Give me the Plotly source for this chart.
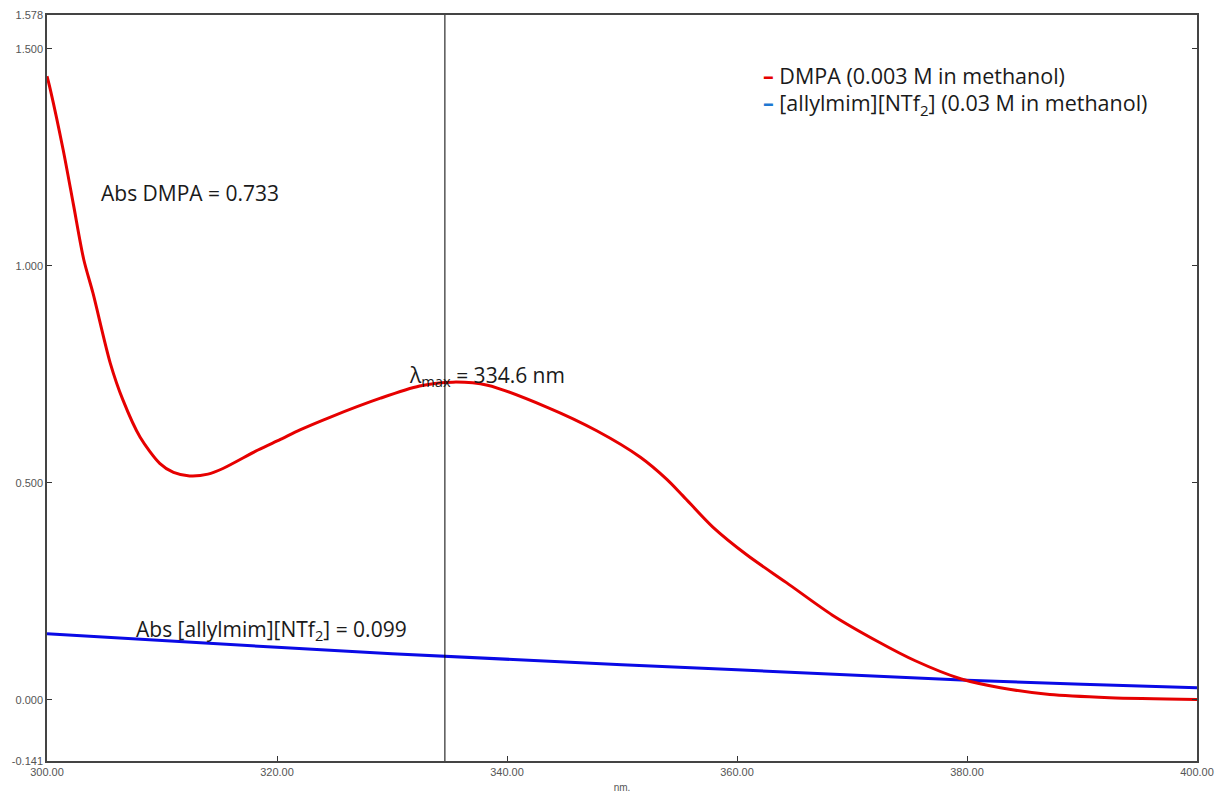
import plotly.graph_objects as go

# DMPA absorbance (red)
dmpa_nm = [300.0, 300.3, 301.4, 302.3, 303.2, 304.0, 305.5, 306.6, 308.1, 309.8, 311.0, 312.4,
           314.0, 315.3, 318.3, 320.3, 322.0, 324.6, 329.0, 332.4, 335.3, 338.3, 343.5, 347.8,
           351.6, 353.9, 355.3, 357.9, 360.9, 364.3, 368.3, 372.2, 375.5, 379.5, 382.9, 387.2,
           392.4, 400.0]
dmpa_abs = [1.437, 1.405, 1.268, 1.141, 1.014, 0.937, 0.776, 0.691, 0.605, 0.545, 0.524, 0.516,
            0.520, 0.533, 0.575, 0.600, 0.622, 0.651, 0.695, 0.723, 0.732, 0.725, 0.674, 0.620,
            0.559, 0.508, 0.470, 0.398, 0.333, 0.270, 0.195, 0.135, 0.090, 0.048, 0.028, 0.012,
            0.005, 0.001]

# [allylmim][NTf2] absorbance (blue)
il_nm = [300, 310, 320, 330, 340, 350, 360, 370, 380, 390, 400]
il_abs = [0.152, 0.136, 0.121, 0.106, 0.093, 0.081, 0.069, 0.057, 0.045, 0.036, 0.028]

y_tickvals = [-0.141, 0.0, 0.5, 1.0, 1.5, 1.578]
y_ticktext = ["-0.141", "0.000", "0.500", "1.000", "1.500", "1.578"]
x_tickvals = [300, 320, 340, 360, 380, 400]
x_ticktext = ["300.00", "320.00", "340.00", "360.00", "380.00", "400.00"]

lambda_max = 334.6

fig = go.Figure()
fig.add_trace(go.Scatter(x=il_nm, y=il_abs, mode="lines", line=dict(color="#0a0ae6", width=3),
                         showlegend=False))
fig.add_trace(go.Scatter(x=dmpa_nm, y=dmpa_abs, mode="lines",
                         line=dict(color="#e60000", width=3, shape="spline", smoothing=0.8),
                         showlegend=False))

fig.add_shape(type="line", x0=lambda_max, x1=lambda_max, y0=0, y1=1, xref="x", yref="paper",
              line=dict(color="black", width=1))

tfont = dict(family="Open Sans, sans-serif", size=21, color="#1a1a1a")
lfont = dict(family="Open Sans, sans-serif", size=21.5, color="#1a1a1a")
fig.add_annotation(x=312.4, y=1.169, text="Abs DMPA = 0.733", showarrow=False, font=tfont,
                   xanchor="center", yanchor="middle")
fig.add_annotation(x=331.3, y=0.746, text="λ<sub>max</sub> = 334.6 nm", showarrow=False, font=tfont,
                   xanchor="left", yanchor="middle")
fig.add_annotation(x=307.6, y=0.161, text="Abs [allylmim][NTf<sub>2</sub>] = 0.099", showarrow=False, font=tfont,
                   xanchor="left", yanchor="middle")

# legend as text
fig.add_annotation(x=0.621, y=1.439, xref="paper", yref="y",
                   text="<span style='color:#e60000'><b>–</b></span> DMPA (0.003 M in methanol)",
                   showarrow=False, font=lfont, xanchor="left", yanchor="middle")
fig.add_annotation(x=0.621, y=1.372, xref="paper", yref="y",
                   text="<span style='color:#1e78d2'><b>–</b></span> [allylmim][NTf<sub>2</sub>] (0.03 M in methanol)",
                   showarrow=False, font=lfont, xanchor="left", yanchor="middle")

axfont = dict(family="Liberation Sans, Arial, sans-serif", size=11, color="#555555")
fig.update_xaxes(range=[300, 400], tickvals=x_tickvals, ticktext=x_ticktext, ticks="inside", ticklen=5,
                 tickcolor="#333", showline=True, linecolor="#444", linewidth=1.5, mirror=True,
                 showgrid=False, zeroline=False, tickfont=axfont, automargin=False,
                 title=dict(text="nm.", font=dict(family="Liberation Sans, Arial, sans-serif", size=10, color="#555"), standoff=8))
fig.update_yaxes(range=[-0.141, 1.578], tickvals=y_tickvals, ticktext=y_ticktext, ticks="inside", ticklen=5,
                 tickcolor="#333", showline=True, linecolor="#444", linewidth=1.5, mirror="ticks",
                 showgrid=False, zeroline=False, tickfont=axfont, automargin=False)

fig.update_layout(width=1215, height=793, margin=dict(l=47, r=18, t=15, b=32, autoexpand=False),
                  plot_bgcolor="white", paper_bgcolor="white", showlegend=False)

fig.write_html("out.html")
